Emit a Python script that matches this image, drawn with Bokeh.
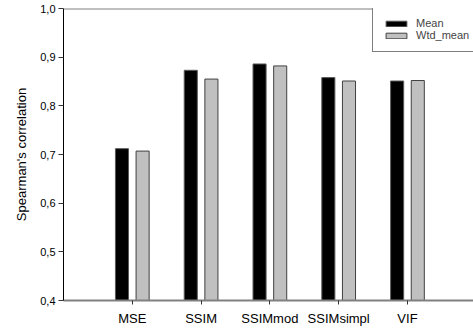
from bokeh.plotting import figure
from bokeh.models import ColumnDataSource, FixedTicker, CustomJSTickFormatter, Span, Legend, LegendItem, Range1d
from bokeh.embed import file_html
from bokeh.resources import INLINE

metrics = ["MSE", "SSIM", "SSIMmod", "SSIMsimpl", "VIF"]
mean_vals = [0.712, 0.873, 0.886, 0.858, 0.851]
wtd_mean_vals = [0.707, 0.855, 0.882, 0.851, 0.852]
y_ticks = [0.4, 0.5, 0.6, 0.7, 0.8, 0.9, 1.0]

FONT = "Liberation Sans"
pos = list(range(1, len(metrics) + 1))
offset = 0.15
bw = 0.19

src = ColumnDataSource(dict(
    xm=[p_ - offset for p_ in pos],
    xw=[p_ + offset for p_ in pos],
    mean=mean_vals,
    wtd=wtd_mean_vals,
))

p = figure(width=473, height=331, output_backend="svg", toolbar_location=None,
           x_range=Range1d(0, 5.96), y_range=Range1d(0.4, 1.0),
           min_border_left=63, min_border_right=0, min_border_top=8, min_border_bottom=31)
p.outline_line_color = None
p.grid.grid_line_color = None
p.background_fill_color = "white"

r1 = p.vbar(x="xm", top="mean", bottom=0.4, width=bw, source=src,
            fill_color="black", line_color="#5a5a5a", line_width=1)
r2 = p.vbar(x="xw", top="wtd", bottom=0.4, width=bw, source=src,
            fill_color="#c0c0c0", line_color="#404040", line_width=1)

p.add_layout(Span(location=1.0, dimension="width", line_color="#808080", line_width=2))

# x axis
xa = p.xaxis[0]
xa.ticker = FixedTicker(ticks=pos)
xa.major_label_overrides = {i: m for i, m in zip(pos, metrics)}
xa.axis_line_color = "#808080"
xa.axis_line_width = 2
xa.major_tick_line_color = "#333333"
xa.major_tick_out = 4
xa.major_tick_in = 0
xa.minor_tick_line_color = None
xa.major_label_text_font = FONT
xa.major_label_text_font_size = "13px"
xa.major_label_text_color = "black"
xa.major_label_standoff = 6

# y axis
ya = p.yaxis[0]
ya.ticker = FixedTicker(ticks=y_ticks)
ya.formatter = CustomJSTickFormatter(code="return tick.toFixed(1).replace('.', ',');")
ya.axis_line_color = "black"
ya.axis_line_width = 1
ya.major_tick_line_color = "#333333"
ya.major_tick_out = 5
ya.major_tick_in = 0
ya.minor_tick_line_color = None
ya.major_label_text_font = FONT
ya.major_label_text_font_size = "11px"
ya.major_label_text_color = "black"
ya.major_label_standoff = 3
ya.axis_label = "Spearman's correlation"
ya.axis_label_text_font = FONT
ya.axis_label_text_font_size = "13px"
ya.axis_label_text_font_style = "normal"
ya.axis_label_text_color = "black"
ya.axis_label_standoff = 8

legend = Legend(items=[LegendItem(label="Mean", renderers=[r1]),
                       LegendItem(label="Wtd_mean", renderers=[r2])],
                location=(309, 248))
legend.border_line_color = "black"
legend.border_line_width = 1
legend.background_fill_color = "white"
legend.background_fill_alpha = 1
legend.label_text_font = FONT
legend.label_text_font_size = "11px"
legend.glyph_width = 26
legend.glyph_height = 7
legend.label_height = 8
legend.label_standoff = 7
legend.spacing = 0
legend.padding = 10
legend.margin = 0
p.add_layout(legend, "center")

open("out.html", "w").write(file_html(p, INLINE))
